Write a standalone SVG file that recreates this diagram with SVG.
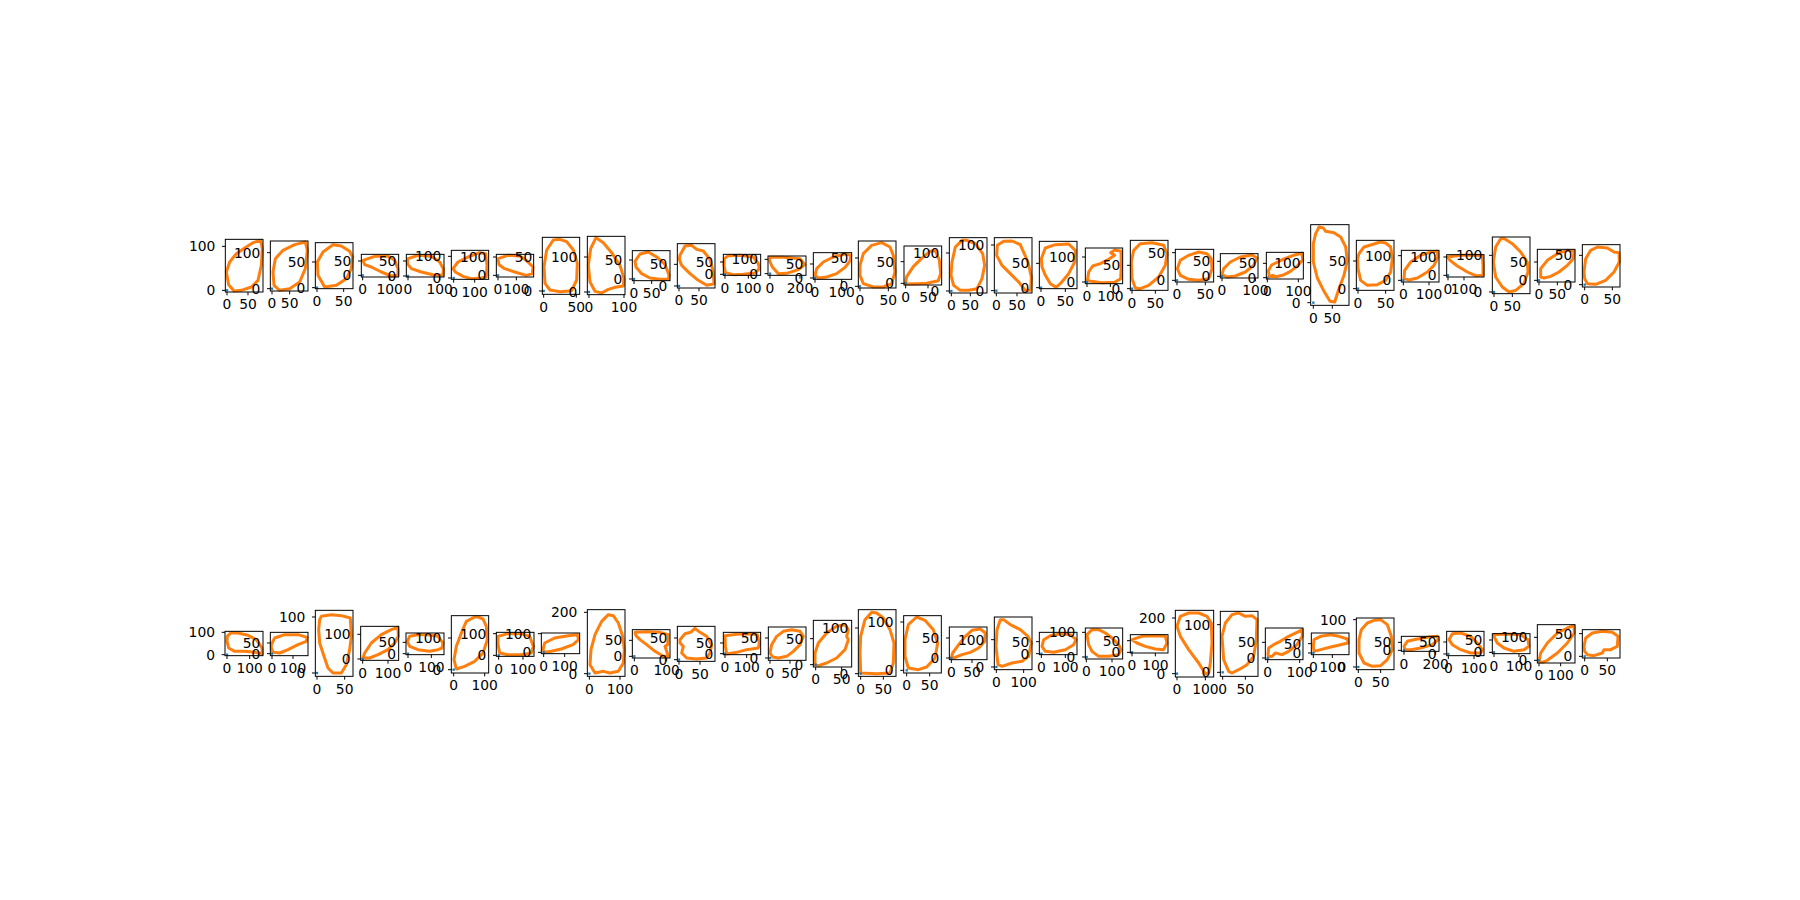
<svg xmlns="http://www.w3.org/2000/svg" width="1800" height="900" viewBox="0 0 1800 900">
<style>
.c{fill:none;stroke:#ff7f0e;stroke-width:9;stroke-linejoin:round;stroke-linecap:round}
.b{fill:none;stroke:#000;stroke-width:3}
.t{fill:none;stroke:#000;stroke-width:3}
.p{fill:#1f77b4}
text{font-family:"DejaVu Sans","Liberation Sans",sans-serif;font-size:41.5px;fill:#000}
.y{text-anchor:end;dominant-baseline:central}
.x{text-anchor:middle;dominant-baseline:hanging}
</style>
<rect width="1800" height="900" fill="#fff"/>
<g id="top-row">
<g id="t00" transform="translate(218 222) scale(.33333)"><path class="c" d="M25,150 L35,120 L55,95 L80,78 L105,62 L128,55 L133,80 L130,130 L120,175 L100,195 L70,205 L48,207 L32,188 Z"/><rect class="p" x="23.5" y="201.5" width="7" height="7"/><rect class="b" x="22" y="52" width="113" height="158"/><path class="t" d="M22,73h-10M22,205h-10M27,210v10M90,210v10"/><text class="y" x="-8" y="73">100</text><text class="y" x="-8" y="205">0</text><text class="x" x="27" y="231">0</text><text class="x" x="90" y="231">50</text></g>
<g id="t01" transform="translate(218 222) scale(.33333)"><path class="c" d="M165,150 L172,110 L195,85 L230,68 L262,60 L268,85 L262,140 L245,180 L215,200 L185,205 L168,190 Z"/><rect class="p" x="158.5" y="196.5" width="7" height="7"/><rect class="b" x="157" y="57" width="113" height="150"/><path class="t" d="M157,92h-10M157,200h-10M162,207v10M215,207v10"/><text class="y" x="127" y="92">100</text><text class="y" x="127" y="200">0</text><text class="x" x="162" y="228">0</text><text class="x" x="215" y="228">50</text></g>
<g id="t02" transform="translate(218 222) scale(.33333)"><path class="c" d="M320,195 L300,160 L298,120 L315,90 L345,68 L370,72 L395,88 L404,105 L400,140 L385,170 L355,190 Z"/><rect class="p" x="293.5" y="193.5" width="7" height="7"/><rect class="b" x="292" y="62" width="113" height="138"/><path class="t" d="M292,120h-10M292,197h-10M297,200v10M377,200v10"/><text class="y" x="262" y="120">50</text><text class="y" x="262" y="197">0</text><text class="x" x="297" y="221">0</text><text class="x" x="377" y="221">50</text></g>
<g id="t03" transform="translate(218 222) scale(.33333)"><path class="c" d="M435,115 L470,103 L510,102 L530,115 L540,140 L540,160 L520,162 L490,150 L460,135 L440,128 Z"/><rect class="p" x="430.5" y="156.5" width="7" height="7"/><rect class="b" x="430" y="97" width="112" height="68"/><path class="t" d="M430,117h-10M430,160h-10M434,165v10M515,165v10"/><text class="y" x="400" y="117">50</text><text class="y" x="400" y="160">0</text><text class="x" x="434" y="186">0</text><text class="x" x="515" y="186">100</text></g>
<g id="t04" transform="translate(218 222) scale(.33333)"><path class="c" d="M570,110 L600,100 L640,103 L665,120 L676,140 L675,160 L645,158 L610,150 L580,140 L568,125 Z"/><rect class="p" x="566.5" y="158.5" width="7" height="7"/><rect class="b" x="565" y="97" width="113" height="68"/><path class="t" d="M565,117h-10M565,162h-10M570,165v10M665,165v10"/><text class="y" x="535" y="117">50</text><text class="y" x="535" y="162">0</text><text class="x" x="570" y="186">0</text><text class="x" x="665" y="186">100</text></g>
<g id="t05" transform="translate(218 222) scale(.33333)"><path class="c" d="M705,140 L720,120 L750,105 L785,92 L803,95 L807,130 L805,165 L790,168 L760,170 L735,163 L712,150 Z"/><rect class="p" x="703.5" y="164.5" width="7" height="7"/><rect class="b" x="700" y="85" width="112" height="87"/><path class="t" d="M700,103h-10M700,168h-10M707,172v10M770,172v10"/><text class="y" x="670" y="103">100</text><text class="y" x="670" y="168">0</text><text class="x" x="707" y="193">0</text><text class="x" x="770" y="193">100</text></g>
<g id="t06" transform="translate(218 222) scale(.33333)"><path class="c" d="M840,110 L870,100 L905,102 L925,115 L945,135 L943,155 L925,160 L890,150 L860,140 L843,128 Z"/><rect class="p" x="836.5" y="156.5" width="7" height="7"/><rect class="b" x="835" y="97" width="112" height="68"/><path class="t" d="M835,105h-10M835,160h-10M840,165v10M895,165v10"/><text class="y" x="805" y="105">100</text><text class="y" x="805" y="160">0</text><text class="x" x="840" y="186">0</text><text class="x" x="895" y="186">100</text></g>
<g id="t07" transform="translate(218 222) scale(.33333)"><path class="c" d="M1006,54 L986,84 L978,134 L981,184 L996,204 L1026,209 L1061,206 L1076,174 L1078,124 L1066,84 L1046,59 L1026,52 Z"/><rect class="p" x="973.5" y="203.5" width="7" height="7"/><rect class="b" x="973" y="46" width="112" height="171"/><path class="t" d="M973,106h-10M973,207h-10M977,217v10M1075,217v10"/><text class="y" x="943" y="106">50</text><text class="y" x="943" y="207">0</text><text class="x" x="977" y="238">0</text><text class="x" x="1075" y="238">50</text></g>
<g id="t08" transform="translate(570 222) scale(.33333)"><path class="c" d="M78,47 L62,80 L55,130 L60,180 L75,208 L95,213 L115,202 L135,196 L160,192 L162,170 L150,130 L125,92 L100,62 Z"/><rect class="p" x="53.5" y="206.5" width="7" height="7"/><rect class="b" x="52" y="43" width="113" height="175"/><path class="t" d="M52,105h-10M52,210h-10M57,218v10M162,218v10"/><text class="y" x="22" y="105">100</text><text class="y" x="22" y="210">0</text><text class="x" x="57" y="239">0</text><text class="x" x="162" y="239">100</text></g>
<g id="t09" transform="translate(570 222) scale(.33333)"><path class="c" d="M195,118 L210,96 L235,90 L260,105 L285,127 L297,160 L295,171 L268,172 L240,168 L215,155 L198,135 Z"/><rect class="p" x="188.5" y="167.5" width="7" height="7"/><rect class="b" x="187" y="86" width="113" height="90"/><path class="t" d="M187,114h-10M187,171h-10M192,176v10M245,176v10"/><text class="y" x="157" y="114">50</text><text class="y" x="157" y="171">0</text><text class="x" x="192" y="197">0</text><text class="x" x="245" y="197">50</text></g>
<g id="t10" transform="translate(570 222) scale(.33333)"><path class="c" d="M330,100 L345,72 L365,70 L380,82 L400,87 L420,112 L430,150 L432,185 L410,190 L385,175 L360,155 L335,130 L328,112 Z"/><rect class="p" x="323.5" y="188.5" width="7" height="7"/><rect class="b" x="322" y="65" width="113" height="133"/><path class="t" d="M322,127h-10M322,192h-10M327,198v10M387,198v10"/><text class="y" x="292" y="127">50</text><text class="y" x="292" y="192">0</text><text class="x" x="327" y="219">0</text><text class="x" x="387" y="219">50</text></g>
<g id="t11" transform="translate(570 222) scale(.33333)"><path class="c" d="M463,110 L475,101 L510,100 L550,105 L565,125 L568,140 L555,153 L520,157 L490,158 L466,152 L462,130 Z"/><rect class="p" x="461.5" y="153.5" width="7" height="7"/><rect class="b" x="460" y="97" width="112" height="63"/><path class="t" d="M460,120h-10M460,157h-10M465,160v10M535,160v10"/><text class="y" x="430" y="120">50</text><text class="y" x="430" y="157">0</text><text class="x" x="465" y="181">0</text><text class="x" x="535" y="181">100</text></g>
<g id="t12" transform="translate(570 222) scale(.33333)"><path class="c" d="M600,106 L640,106 L690,110 L705,128 L685,143 L650,154 L625,155 L607,135 L599,117 Z"/><rect class="p" x="596.5" y="151.5" width="7" height="7"/><rect class="b" x="594" y="102" width="114" height="58"/><path class="t" d="M594,112h-10M594,155h-10M600,160v10M690,160v10"/><text class="y" x="564" y="112">100</text><text class="y" x="564" y="155">0</text><text class="x" x="600" y="181">0</text><text class="x" x="690" y="181">200</text></g>
<g id="t13" transform="translate(570 222) scale(.33333)"><path class="c" d="M735,160 L740,140 L760,120 L790,105 L825,96 L842,100 L840,117 L825,136 L800,155 L770,165 L745,168 Z"/><rect class="p" x="731.5" y="164.5" width="7" height="7"/><rect class="b" x="730" y="92" width="115" height="80"/><path class="t" d="M730,126h-10M730,168h-10M735,172v10M815,172v10"/><text class="y" x="700" y="126">50</text><text class="y" x="700" y="168">0</text><text class="x" x="735" y="193">0</text><text class="x" x="815" y="193">100</text></g>
<g id="t14" transform="translate(570 222) scale(.33333)"><path class="c" d="M870,130 L880,95 L905,70 L935,62 L960,75 L970,100 L975,150 L965,185 L940,195 L910,195 L880,185 L870,160 Z"/><rect class="p" x="866.5" y="189.5" width="7" height="7"/><rect class="b" x="865" y="57" width="113" height="141"/><path class="t" d="M865,108h-10M865,193h-10M870,198v10M955,198v10"/><text class="y" x="835" y="108">50</text><text class="y" x="835" y="193">0</text><text class="x" x="870" y="219">0</text><text class="x" x="955" y="219">50</text></g>
<g id="t15" transform="translate(620 180) scale(.33333)"><path class="c" d="M856,312 L860,290 L880,260 L905,235 L930,214 L946,212 L958,240 L962,280 L955,302 L920,310 L890,311 Z"/><rect class="p" x="853.5" y="306.5" width="7" height="7"/><rect class="b" x="852" y="198" width="113" height="117"/><path class="t" d="M852,245h-10M852,310h-10M857,315v10M924,315v10"/><text class="y" x="822" y="245">50</text><text class="y" x="822" y="310">0</text><text class="x" x="857" y="336">0</text><text class="x" x="924" y="336">50</text></g>
<g id="t16" transform="translate(922 222) scale(.33333)"><path class="c" d="M120,55 L100,75 L90,120 L87,160 L95,190 L115,205 L140,205 L165,200 L180,170 L188,130 L182,95 L160,65 L135,55 Z"/><rect class="p" x="84.5" y="203.5" width="7" height="7"/><rect class="b" x="82" y="47" width="113" height="166"/><path class="t" d="M82,93h-10M82,207h-10M88,213v10M145,213v10"/><text class="y" x="52" y="93">100</text><text class="y" x="52" y="207">0</text><text class="x" x="88" y="234">0</text><text class="x" x="145" y="234">50</text></g>
<g id="t17" transform="translate(922 222) scale(.33333)"><path class="c" d="M226,70 L245,58 L270,57 L295,68 L300,80 L318,120 L328,165 L326,205 L310,205 L290,180 L265,155 L240,130 L224,100 Z"/><rect class="p" x="219.5" y="202.5" width="7" height="7"/><rect class="b" x="217" y="47" width="113" height="166"/><path class="t" d="M217,69h-10M217,206h-10M223,213v10M285,213v10"/><text class="y" x="187" y="69">100</text><text class="y" x="187" y="206">0</text><text class="x" x="223" y="234">0</text><text class="x" x="285" y="234">50</text></g>
<g id="t18" transform="translate(922 222) scale(.33333)"><path class="c" d="M358,110 L370,78 L400,68 L440,66 L460,85 L458,120 L440,155 L415,185 L402,196 L385,185 L370,160 L360,135 Z"/><rect class="p" x="353.5" y="193.5" width="7" height="7"/><rect class="b" x="352" y="58" width="113" height="142"/><path class="t" d="M352,124h-10M352,197h-10M357,200v10M430,200v10"/><text class="y" x="322" y="124">50</text><text class="y" x="322" y="197">0</text><text class="x" x="357" y="221">0</text><text class="x" x="430" y="221">50</text></g>
<g id="t19" transform="translate(922 222) scale(.33333)"><path class="c" d="M496,176 L500,150 L512,132 L535,125 L560,112 L578,100 L566,92 L578,84 L597,88 L598,130 L596,170 L578,181 L540,182 Z"/><rect class="p" x="491.5" y="176.5" width="7" height="7"/><rect class="b" x="490" y="78" width="112" height="107"/><path class="t" d="M490,105h-10M490,180h-10M495,185v10M565,185v10"/><text class="y" x="460" y="105">100</text><text class="y" x="460" y="180">0</text><text class="x" x="495" y="206">0</text><text class="x" x="565" y="206">100</text></g>
<g id="t20" transform="translate(922 222) scale(.33333)"><path class="c" d="M640,198 L630,170 L628,120 L635,85 L655,65 L690,62 L725,70 L735,95 L730,130 L710,165 L680,190 L655,200 Z"/><rect class="p" x="626.5" y="196.5" width="7" height="7"/><rect class="b" x="625" y="55" width="113" height="150"/><path class="t" d="M625,130h-10M625,200h-10M630,205v10M700,205v10"/><text class="y" x="595" y="130">50</text><text class="y" x="595" y="200">0</text><text class="x" x="630" y="226">0</text><text class="x" x="700" y="226">50</text></g>
<g id="t21" transform="translate(922 222) scale(.33333)"><path class="c" d="M766,140 L775,115 L800,100 L830,90 L855,95 L868,110 L870,140 L860,170 L830,175 L800,172 L775,160 Z"/><rect class="p" x="761.5" y="171.5" width="7" height="7"/><rect class="b" x="760" y="82" width="115" height="98"/><path class="t" d="M760,92h-10M760,175h-10M765,180v10M850,180v10"/><text class="y" x="730" y="92">50</text><text class="y" x="730" y="175">0</text><text class="x" x="765" y="201">0</text><text class="x" x="850" y="201">50</text></g>
<g id="t22" transform="translate(922 222) scale(.33333)"><path class="c" d="M900,158 L905,140 L925,120 L955,105 L990,99 L1005,108 L995,130 L970,150 L940,162 L915,165 Z"/><rect class="p" x="896.5" y="159.5" width="7" height="7"/><rect class="b" x="895" y="95" width="113" height="73"/><path class="t" d="M895,118h-10M895,163h-10M900,168v10M1000,168v10"/><text class="y" x="865" y="118">50</text><text class="y" x="865" y="163">0</text><text class="x" x="900" y="189">0</text><text class="x" x="1000" y="189">100</text></g>
<g id="t23" transform="translate(1060 180) scale(.33333)"><path class="c" d="M625,272 L635,255 L665,240 L700,226 L726,220 L728,240 L710,260 L690,275 L668,286 L648,290 L638,286 L628,291 Z"/><rect class="p" x="618.5" y="289.5" width="7" height="7"/><rect class="b" x="619" y="217" width="111" height="80"/><path class="t" d="M619,250h-10M619,293h-10M622,297v10M715,297v10"/><text class="y" x="589" y="250">50</text><text class="y" x="589" y="293">0</text><text class="x" x="622" y="318">0</text><text class="x" x="715" y="318">100</text></g>
<g id="t24" transform="translate(1274 222) scale(.33333)"><path class="c" d="M130,25 L135,15 L148,18 L155,28 L180,32 L200,45 L215,75 L220,115 L210,160 L195,200 L182,240 L168,238 L150,208 L130,168 L118,120 L118,65 L125,35 Z"/><rect class="p" x="114.5" y="238.5" width="7" height="7"/><rect class="b" x="110" y="8" width="115" height="242"/><path class="t" d="M110,122h-10M110,242h-10M118,250v10M175,250v10"/><text class="y" x="80" y="122">100</text><text class="y" x="80" y="242">0</text><text class="x" x="118" y="271">0</text><text class="x" x="175" y="271">50</text></g>
<g id="t25" transform="translate(1274 222) scale(.33333)"><path class="c" d="M255,95 L270,75 L300,66 L318,60 L335,63 L350,75 L355,110 L350,150 L335,175 L310,188 L280,190 L260,175 L252,140 L251,110 Z"/><rect class="p" x="248.5" y="196.5" width="7" height="7"/><rect class="b" x="247" y="55" width="113" height="150"/><path class="t" d="M247,117h-10M247,200h-10M252,205v10M335,205v10"/><text class="y" x="217" y="117">50</text><text class="y" x="217" y="200">0</text><text class="x" x="252" y="226">0</text><text class="x" x="335" y="226">50</text></g>
<g id="t26" transform="translate(1274 222) scale(.33333)"><path class="c" d="M390,170 L392,145 L410,120 L440,100 L470,90 L490,88 L492,105 L480,130 L460,150 L430,168 L405,174 Z"/><rect class="p" x="384.5" y="171.5" width="7" height="7"/><rect class="b" x="382" y="85" width="113" height="95"/><path class="t" d="M382,101h-10M382,175h-10M388,180v10M465,180v10"/><text class="y" x="352" y="101">100</text><text class="y" x="352" y="175">0</text><text class="x" x="388" y="201">0</text><text class="x" x="465" y="201">100</text></g>
<g id="t27" transform="translate(1274 222) scale(.33333)"><path class="c" d="M521,105 L560,100 L600,99 L625,101 L627,130 L627,160 L605,161 L580,150 L550,132 L528,115 Z"/><rect class="p" x="518.5" y="156.5" width="7" height="7"/><rect class="b" x="518" y="98" width="112" height="67"/><path class="t" d="M518,105h-10M518,160h-10M522,165v10M570,165v10"/><text class="y" x="488" y="105">100</text><text class="y" x="488" y="160">0</text><text class="x" x="522" y="186">0</text><text class="x" x="570" y="186">100</text></g>
<g id="t28" transform="translate(1274 222) scale(.33333)"><path class="c" d="M680,50 L665,75 L658,120 L665,165 L685,195 L705,210 L725,205 L750,185 L762,150 L760,120 L740,90 L715,65 L692,50 Z"/><rect class="p" x="656.5" y="206.5" width="7" height="7"/><rect class="b" x="655" y="45" width="113" height="170"/><path class="t" d="M655,100h-10M655,210h-10M660,215v10M715,215v10"/><text class="y" x="625" y="100">100</text><text class="y" x="625" y="210">0</text><text class="x" x="660" y="236">0</text><text class="x" x="715" y="236">50</text></g>
<g id="t29" transform="translate(1274 222) scale(.33333)"><path class="c" d="M800,165 L800,140 L820,115 L850,95 L880,85 L900,88 L898,110 L880,130 L855,150 L830,163 L810,168 Z"/><rect class="p" x="791.5" y="171.5" width="7" height="7"/><rect class="b" x="790" y="82" width="113" height="98"/><path class="t" d="M790,120h-10M790,175h-10M795,180v10M850,180v10"/><text class="y" x="760" y="120">50</text><text class="y" x="760" y="175">0</text><text class="x" x="795" y="201">0</text><text class="x" x="850" y="201">50</text></g>
<g id="t30" transform="translate(1274 222) scale(.33333)"><path class="c" d="M930,150 L935,110 L950,85 L970,75 L1000,78 L1020,90 L1035,92 L1036,120 L1020,150 L995,175 L965,187 L940,185 L932,170 Z"/><rect class="p" x="928.5" y="184.5" width="7" height="7"/><rect class="b" x="925" y="68" width="113" height="127"/><path class="t" d="M925,100h-10M925,188h-10M932,195v10M1015,195v10"/><text class="y" x="895" y="100">50</text><text class="y" x="895" y="188">0</text><text class="x" x="932" y="216">0</text><text class="x" x="1015" y="216">50</text></g>
</g>
<g id="bottom-row">
<g id="b00" transform="translate(218 603) scale(.33333)"><path class="c" d="M28,100 L38,90 L60,90 L90,97 L115,110 L132,135 L133,152 L110,148 L80,145 L50,145 L32,135 L27,115 Z"/><rect class="p" x="23.5" y="151.5" width="7" height="7"/><rect class="b" x="21" y="85" width="114" height="73"/><path class="t" d="M21,88h-10M21,155h-10M27,158v10M95,158v10"/><text class="y" x="-9" y="88">100</text><text class="y" x="-9" y="155">0</text><text class="x" x="27" y="179">0</text><text class="x" x="95" y="179">100</text></g>
<g id="b01" transform="translate(218 603) scale(.33333)"><path class="c" d="M160,125 L170,105 L200,95 L240,95 L267,103 L265,115 L240,125 L210,140 L185,150 L165,148 L160,135 Z"/><rect class="p" x="158.5" y="148.5" width="7" height="7"/><rect class="b" x="157" y="88" width="113" height="70"/><path class="t" d="M157,120h-10M157,152h-10M162,158v10M225,158v10"/><text class="y" x="127" y="120">50</text><text class="y" x="127" y="152">0</text><text class="x" x="162" y="179">0</text><text class="x" x="225" y="179">100</text></g>
<g id="b02" transform="translate(218 603) scale(.33333)"><path class="c" d="M310,40 L340,35 L370,38 L397,45 L400,100 L395,140 L385,185 L370,210 L345,210 L330,195 L318,160 L305,120 L302,80 L305,50 Z"/><rect class="p" x="293.5" y="206.5" width="7" height="7"/><rect class="b" x="292" y="22" width="113" height="198"/><path class="t" d="M292,42h-10M292,210h-10M297,220v10M380,220v10"/><text class="y" x="262" y="42">100</text><text class="y" x="262" y="210">0</text><text class="x" x="297" y="241">0</text><text class="x" x="380" y="241">50</text></g>
<g id="b03" transform="translate(218 603) scale(.33333)"><path class="c" d="M435,165 L440,150 L460,120 L490,95 L520,80 L540,73 L541,100 L530,120 L510,140 L480,155 L455,165 Z"/><rect class="p" x="430.5" y="164.5" width="7" height="7"/><rect class="b" x="428" y="70" width="114" height="102"/><path class="t" d="M428,94h-10M428,168h-10M434,172v10M510,172v10"/><text class="y" x="398" y="94">100</text><text class="y" x="398" y="168">0</text><text class="x" x="434" y="193">0</text><text class="x" x="510" y="193">100</text></g>
<g id="b04" transform="translate(218 603) scale(.33333)"><path class="c" d="M568,115 L575,100 L600,95 L630,95 L660,100 L675,120 L672,135 L660,140 L635,145 L600,140 L575,130 Z"/><rect class="p" x="566.5" y="148.5" width="7" height="7"/><rect class="b" x="564" y="90" width="114" height="65"/><path class="t" d="M564,118h-10M564,152h-10M570,155v10M640,155v10"/><text class="y" x="534" y="118">50</text><text class="y" x="534" y="152">0</text><text class="x" x="570" y="176">0</text><text class="x" x="640" y="176">100</text></g>
<g id="b05" transform="translate(218 603) scale(.33333)"><path class="c" d="M770,42 L745,55 L730,90 L715,130 L708,170 L715,198 L740,190 L770,175 L795,150 L808,110 L805,70 L795,48 L780,42 Z"/><rect class="p" x="703.5" y="196.5" width="7" height="7"/><rect class="b" x="700" y="38" width="112" height="172"/><path class="t" d="M700,105h-10M700,200h-10M707,210v10M800,210v10"/><text class="y" x="670" y="105">100</text><text class="y" x="670" y="200">0</text><text class="x" x="707" y="231">0</text><text class="x" x="800" y="231">100</text></g>
<g id="b06" transform="translate(218 603) scale(.33333)"><path class="c" d="M840,100 L870,92 L910,92 L935,100 L946,130 L940,150 L910,155 L870,155 L845,150 L840,125 Z"/><rect class="p" x="838.5" y="153.5" width="7" height="7"/><rect class="b" x="835" y="88" width="113" height="72"/><path class="t" d="M835,92h-10M835,157h-10M842,160v10M915,160v10"/><text class="y" x="805" y="92">100</text><text class="y" x="805" y="157">0</text><text class="x" x="842" y="181">0</text><text class="x" x="915" y="181">100</text></g>
<g id="b07" transform="translate(218 603) scale(.33333)"><path class="c" d="M975,140 L980,120 L1010,105 L1050,98 L1078,95 L1082,110 L1065,125 L1030,138 L1000,145 L980,148 Z"/><rect class="p" x="973.5" y="144.5" width="7" height="7"/><rect class="b" x="970" y="90" width="115" height="62"/><path class="t" d="M970,92h-10M970,148h-10M977,152v10M1040,152v10"/><text class="y" x="940" y="92">100</text><text class="y" x="940" y="148">0</text><text class="x" x="977" y="173">0</text><text class="x" x="1040" y="173">100</text></g>
<g id="b08" transform="translate(570 603) scale(.33333)"><path class="c" d="M60,185 L63,140 L75,95 L95,55 L115,35 L130,38 L145,60 L158,100 L163,140 L160,180 L145,205 L120,210 L100,205 L75,210 Z"/><rect class="p" x="54.5" y="208.5" width="7" height="7"/><rect class="b" x="52" y="20" width="113" height="200"/><path class="t" d="M52,28h-10M52,212h-10M58,220v10M150,220v10"/><text class="y" x="22" y="28">200</text><text class="y" x="22" y="212">0</text><text class="x" x="58" y="241">0</text><text class="x" x="150" y="241">100</text></g>
<g id="b09" transform="translate(570 603) scale(.33333)"><path class="c" d="M195,88 L230,86 L270,88 L295,95 L293,125 L285,130 L295,160 L280,160 L255,145 L230,125 L210,110 L198,98 Z"/><rect class="p" x="189.5" y="156.5" width="7" height="7"/><rect class="b" x="187" y="80" width="113" height="85"/><path class="t" d="M187,112h-10M187,160h-10M193,165v10M290,165v10"/><text class="y" x="157" y="112">50</text><text class="y" x="157" y="160">0</text><text class="x" x="193" y="186">0</text><text class="x" x="290" y="186">100</text></g>
<g id="b10" transform="translate(570 603) scale(.33333)"><path class="c" d="M330,110 L345,92 L362,88 L375,76 L390,88 L410,100 L425,125 L420,150 L410,165 L380,168 L350,165 L335,150 L340,130 L330,120 Z"/><rect class="p" x="323.5" y="166.5" width="7" height="7"/><rect class="b" x="322" y="70" width="113" height="105"/><path class="t" d="M322,105h-10M322,170h-10M327,175v10M390,175v10"/><text class="y" x="292" y="105">50</text><text class="y" x="292" y="170">0</text><text class="x" x="327" y="196">0</text><text class="x" x="390" y="196">50</text></g>
<g id="b11" transform="translate(570 603) scale(.33333)"><path class="c" d="M465,98 L500,94 L540,92 L562,95 L568,120 L565,135 L530,140 L500,148 L470,153 L466,130 Z"/><rect class="p" x="461.5" y="148.5" width="7" height="7"/><rect class="b" x="460" y="88" width="112" height="67"/><path class="t" d="M460,120h-10M460,152h-10M465,155v10M530,155v10"/><text class="y" x="430" y="120">50</text><text class="y" x="430" y="152">0</text><text class="x" x="465" y="176">0</text><text class="x" x="530" y="176">100</text></g>
<g id="b12" transform="translate(570 603) scale(.33333)"><path class="c" d="M600,150 L605,125 L620,100 L640,85 L665,80 L690,85 L700,100 L690,125 L670,145 L650,160 L625,165 L608,162 Z"/><rect class="p" x="596.5" y="161.5" width="7" height="7"/><rect class="b" x="595" y="72" width="113" height="100"/><path class="t" d="M595,105h-10M595,165h-10M600,172v10M660,172v10"/><text class="y" x="565" y="105">50</text><text class="y" x="565" y="165">0</text><text class="x" x="600" y="193">0</text><text class="x" x="660" y="193">50</text></g>
<g id="b13" transform="translate(570 603) scale(.33333)"><path class="c" d="M735,185 L735,150 L745,120 L770,90 L800,70 L825,65 L835,80 L830,100 L835,110 L825,140 L800,165 L770,180 L745,188 Z"/><rect class="p" x="733.5" y="181.5" width="7" height="7"/><rect class="b" x="730" y="52" width="115" height="140"/><path class="t" d="M730,107h-10M730,185h-10M737,192v10M815,192v10"/><text class="y" x="700" y="107">50</text><text class="y" x="700" y="185">0</text><text class="x" x="737" y="213">0</text><text class="x" x="815" y="213">50</text></g>
<g id="b14" transform="translate(570 603) scale(.33333)"><path class="c" d="M905,28 L885,50 L872,100 L870,150 L872,210 L920,212 L960,210 L970,180 L972,120 L960,80 L940,45 L920,30 Z"/><rect class="p" x="868.5" y="208.5" width="7" height="7"/><rect class="b" x="865" y="20" width="113" height="200"/><path class="t" d="M865,75h-10M865,212h-10M872,220v10M940,220v10"/><text class="y" x="835" y="75">100</text><text class="y" x="835" y="212">0</text><text class="x" x="872" y="241">0</text><text class="x" x="940" y="241">50</text></g>
<g id="b15" transform="translate(570 603) scale(.33333)"><path class="c" d="M1040,42 L1015,65 L1005,110 L1005,160 L1015,195 L1045,200 L1070,192 L1095,165 L1103,120 L1090,80 L1065,52 Z"/><rect class="p" x="1006.5" y="198.5" width="7" height="7"/><rect class="b" x="1001" y="38" width="113" height="172"/><path class="t" d="M1001,57h-10M1001,202h-10M1010,210v10M1079,210v10"/><text class="y" x="971" y="57">100</text><text class="y" x="971" y="202">0</text><text class="x" x="1010" y="231">0</text><text class="x" x="1079" y="231">50</text></g>
<g id="b16" transform="translate(922 603) scale(.33333)"><path class="c" d="M88,165 L92,150 L110,125 L130,100 L150,82 L175,78 L190,90 L188,115 L170,135 L145,148 L120,155 L95,165 Z"/><rect class="p" x="84.5" y="161.5" width="7" height="7"/><rect class="b" x="82" y="72" width="113" height="98"/><path class="t" d="M82,105h-10M82,165h-10M88,170v10M150,170v10"/><text class="y" x="52" y="105">50</text><text class="y" x="52" y="165">0</text><text class="x" x="88" y="191">0</text><text class="x" x="150" y="191">50</text></g>
<g id="b17" transform="translate(922 603) scale(.33333)"><path class="c" d="M235,50 L225,80 L222,130 L228,185 L240,190 L270,180 L300,175 L320,160 L328,120 L318,100 L295,80 L265,65 L245,50 Z"/><rect class="p" x="219.5" y="188.5" width="7" height="7"/><rect class="b" x="217" y="42" width="113" height="158"/><path class="t" d="M217,110h-10M217,192h-10M223,200v10M305,200v10"/><text class="y" x="187" y="110">100</text><text class="y" x="187" y="192">0</text><text class="x" x="223" y="221">0</text><text class="x" x="305" y="221">100</text></g>
<g id="b18" transform="translate(922 603) scale(.33333)"><path class="c" d="M360,130 L365,110 L385,98 L415,92 L445,95 L462,110 L455,125 L430,140 L395,148 L370,145 Z"/><rect class="p" x="354.5" y="148.5" width="7" height="7"/><rect class="b" x="352" y="88" width="113" height="67"/><path class="t" d="M352,116h-10M352,152h-10M358,155v10M430,155v10"/><text class="y" x="322" y="116">50</text><text class="y" x="322" y="152">0</text><text class="x" x="358" y="176">0</text><text class="x" x="430" y="176">100</text></g>
<g id="b19" transform="translate(922 603) scale(.33333)"><path class="c" d="M495,95 L510,80 L530,80 L550,90 L570,105 L590,125 L597,140 L590,155 L560,160 L530,160 L510,145 L500,125 Z"/><rect class="p" x="490.5" y="158.5" width="7" height="7"/><rect class="b" x="490" y="75" width="112" height="93"/><path class="t" d="M490,88h-10M490,162h-10M493,168v10M570,168v10"/><text class="y" x="460" y="88">100</text><text class="y" x="460" y="162">0</text><text class="x" x="493" y="189">0</text><text class="x" x="570" y="189">100</text></g>
<g id="b20" transform="translate(922 603) scale(.33333)"><path class="c" d="M630,110 L660,100 L700,98 L730,100 L735,120 L725,140 L700,138 L670,130 L645,120 Z"/><rect class="p" x="626.5" y="144.5" width="7" height="7"/><rect class="b" x="625" y="95" width="113" height="55"/><path class="t" d="M625,113h-10M625,148h-10M630,150v10M700,150v10"/><text class="y" x="595" y="113">50</text><text class="y" x="595" y="148">0</text><text class="x" x="630" y="171">0</text><text class="x" x="700" y="171">100</text></g>
<g id="b21" transform="translate(922 603) scale(.33333)"><path class="c" d="M775,40 L800,30 L830,30 L855,40 L868,60 L870,120 L865,180 L860,210 L850,212 L830,180 L800,140 L775,100 L765,70 Z"/><rect class="p" x="761.5" y="208.5" width="7" height="7"/><rect class="b" x="760" y="22" width="115" height="200"/><path class="t" d="M760,45h-10M760,212h-10M765,222v10M850,222v10"/><text class="y" x="730" y="45">200</text><text class="y" x="730" y="212">0</text><text class="x" x="765" y="243">0</text><text class="x" x="850" y="243">100</text></g>
<g id="b22" transform="translate(922 603) scale(.33333)"><path class="c" d="M920,205 L905,170 L900,100 L910,60 L930,35 L950,30 L970,40 L990,38 L1005,50 L1003,110 L995,160 L975,185 L950,200 L930,210 Z"/><rect class="p" x="898.5" y="204.5" width="7" height="7"/><rect class="b" x="895" y="25" width="113" height="195"/><path class="t" d="M895,65h-10M895,208h-10M902,220v10M970,220v10"/><text class="y" x="865" y="65">100</text><text class="y" x="865" y="208">0</text><text class="x" x="902" y="241">0</text><text class="x" x="970" y="241">50</text></g>
<g id="b23" transform="translate(922 603) scale(.33333)"><path class="c" d="M1038,155 L1040,135 L1055,125 L1075,115 L1100,100 L1125,88 L1141,80 L1141,100 L1125,125 L1100,145 L1080,155 L1060,150 L1050,160 L1040,162 Z"/><rect class="p" x="1033.5" y="161.5" width="7" height="7"/><rect class="b" x="1030" y="75" width="113" height="95"/><path class="t" d="M1030,118h-10M1030,165h-10M1037,170v10M1133,170v10"/><text class="y" x="1000" y="118">50</text><text class="y" x="1000" y="165">0</text><text class="x" x="1037" y="191">0</text><text class="x" x="1133" y="191">100</text></g>
<g id="b24" transform="translate(1274 603) scale(.33333)"><path class="c" d="M118,130 L120,110 L140,100 L170,95 L195,100 L220,108 L222,120 L200,125 L170,132 L140,140 L120,145 Z"/><rect class="p" x="114.5" y="146.5" width="7" height="7"/><rect class="b" x="112" y="90" width="113" height="65"/><path class="t" d="M112,122h-10M112,150h-10M118,155v10M175,155v10"/><text class="y" x="82" y="122">50</text><text class="y" x="82" y="150">0</text><text class="x" x="118" y="176">0</text><text class="x" x="175" y="176">100</text></g>
<g id="b25" transform="translate(1274 603) scale(.33333)"><path class="c" d="M280,60 L300,52 L320,50 L340,65 L352,100 L355,140 L340,170 L320,188 L295,190 L270,180 L255,150 L255,110 L262,80 Z"/><rect class="p" x="249.5" y="188.5" width="7" height="7"/><rect class="b" x="247" y="45" width="113" height="155"/><path class="t" d="M247,50h-10M247,192h-10M253,200v10M320,200v10"/><text class="y" x="217" y="50">100</text><text class="y" x="217" y="192">0</text><text class="x" x="253" y="221">0</text><text class="x" x="320" y="221">50</text></g>
<g id="b26" transform="translate(1274 603) scale(.33333)"><path class="c" d="M390,130 L400,115 L430,108 L465,102 L490,100 L493,110 L475,125 L440,135 L410,140 L393,140 Z"/><rect class="p" x="386.5" y="138.5" width="7" height="7"/><rect class="b" x="382" y="100" width="113" height="45"/><path class="t" d="M382,118h-10M382,142h-10M390,145v10M485,145v10"/><text class="y" x="352" y="118">50</text><text class="y" x="352" y="142">0</text><text class="x" x="390" y="166">0</text><text class="x" x="485" y="166">200</text></g>
<g id="b27" transform="translate(1274 603) scale(.33333)"><path class="c" d="M525,110 L535,92 L560,90 L590,100 L610,120 L625,140 L620,150 L590,150 L560,140 L535,125 Z"/><rect class="p" x="519.5" y="149.5" width="7" height="7"/><rect class="b" x="518" y="85" width="112" height="73"/><path class="t" d="M518,117h-10M518,153h-10M523,158v10M600,158v10"/><text class="y" x="488" y="117">50</text><text class="y" x="488" y="153">0</text><text class="x" x="523" y="179">0</text><text class="x" x="600" y="179">100</text></g>
<g id="b28" transform="translate(1274 603) scale(.33333)"><path class="c" d="M660,95 L700,93 L740,95 L762,110 L765,130 L750,140 L720,145 L690,135 L670,120 L662,105 Z"/><rect class="p" x="656.5" y="144.5" width="7" height="7"/><rect class="b" x="655" y="92" width="113" height="60"/><path class="t" d="M655,111h-10M655,148h-10M660,152v10M735,152v10"/><text class="y" x="625" y="111">50</text><text class="y" x="625" y="148">0</text><text class="x" x="660" y="173">0</text><text class="x" x="735" y="173">100</text></g>
<g id="b29" transform="translate(1274 603) scale(.33333)"><path class="c" d="M795,175 L800,150 L820,120 L850,90 L880,75 L900,68 L901,90 L880,120 L850,150 L820,172 L805,178 Z"/><rect class="p" x="791.5" y="168.5" width="7" height="7"/><rect class="b" x="790" y="65" width="113" height="115"/><path class="t" d="M790,103h-10M790,172h-10M795,180v10M860,180v10"/><text class="y" x="760" y="103">100</text><text class="y" x="760" y="172">0</text><text class="x" x="795" y="201">0</text><text class="x" x="860" y="201">100</text></g>
<g id="b30" transform="translate(1274 603) scale(.33333)"><path class="c" d="M930,130 L935,105 L955,90 L985,85 L1015,88 L1032,100 L1030,130 L1010,140 L990,140 L985,150 L960,158 L940,155 L932,145 Z"/><rect class="p" x="928.5" y="156.5" width="7" height="7"/><rect class="b" x="925" y="80" width="113" height="85"/><path class="t" d="M925,92h-10M925,160h-10M932,165v10M1000,165v10"/><text class="y" x="895" y="92">50</text><text class="y" x="895" y="160">0</text><text class="x" x="932" y="186">0</text><text class="x" x="1000" y="186">50</text></g>
</g>
</svg>
